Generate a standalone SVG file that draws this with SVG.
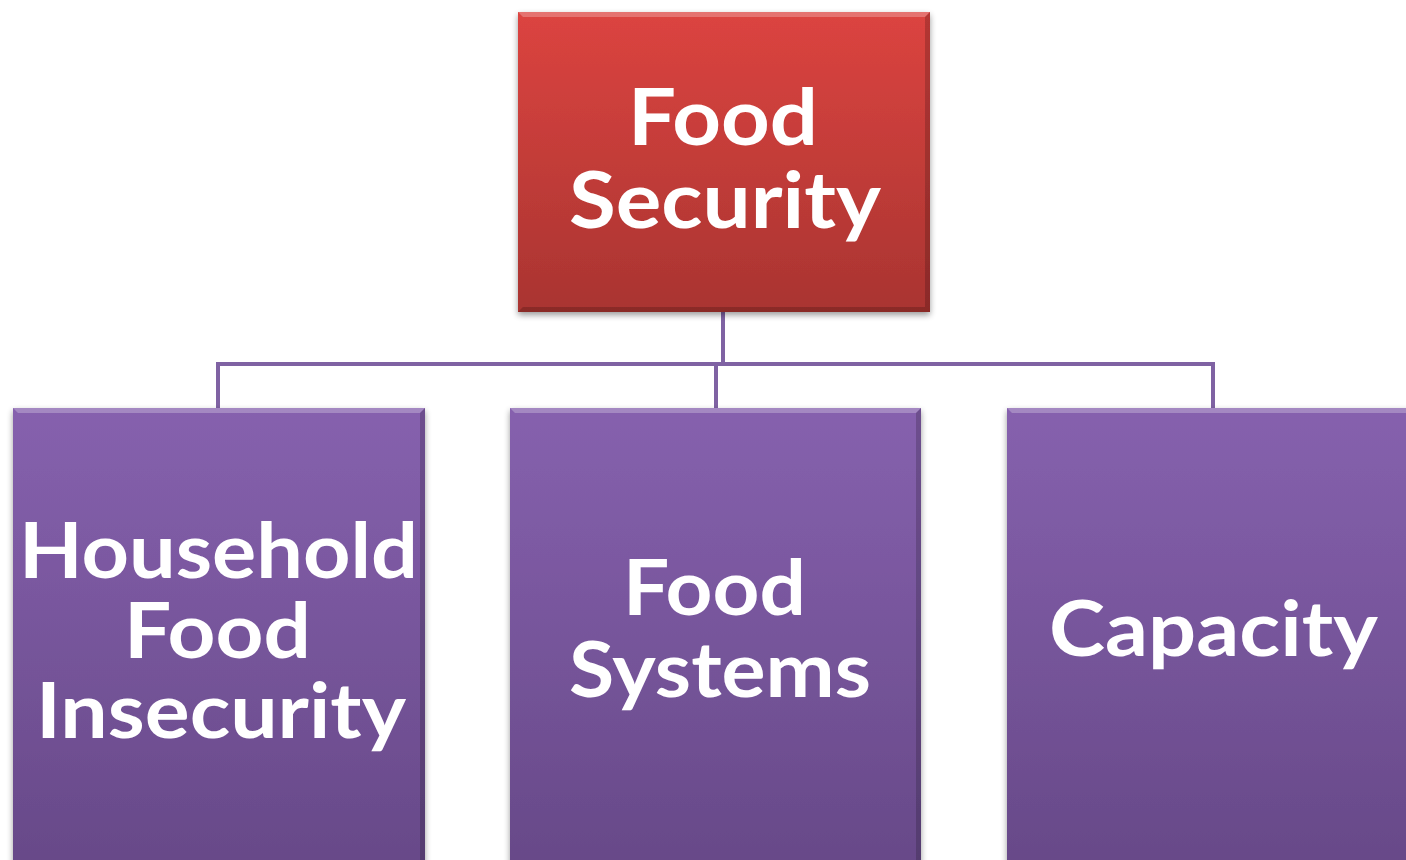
<svg xmlns="http://www.w3.org/2000/svg" width="1406" height="860" viewBox="0 0 1406 860">
  <style>
    .label { font-family: Lato, "Open Sans", "Liberation Sans", sans-serif; font-weight: 700; fill: #ffffff; }
    .conn { fill: none; stroke: #7f62a3; stroke-width: 4; stroke-linejoin: miter; }
    .hi { fill: #ffffff; opacity: 0.25; }
    .lo { fill: #000000; opacity: 0.18; }
  </style>
  <defs>
    <linearGradient id="redFill" x1="0" y1="0" x2="0" y2="1">
      <stop offset="0" stop-color="#dc4440"/>
      <stop offset="1" stop-color="#a93431"/>
    </linearGradient>
    <linearGradient id="purpleFill" x1="0" y1="0" x2="0" y2="1">
      <stop offset="0" stop-color="#8661ae"/>
      <stop offset="1" stop-color="#674988"/>
    </linearGradient>
    <filter id="shadow" x="-10%" y="-10%" width="120%" height="125%">
      <feGaussianBlur in="SourceAlpha" stdDeviation="3"/>
      <feOffset dx="0" dy="3" result="b"/>
      <feComponentTransfer><feFuncA type="linear" slope="0.4"/></feComponentTransfer>
      <feMerge><feMergeNode/><feMergeNode in="SourceGraphic"/></feMerge>
    </filter>
  </defs>

  <rect width="1406" height="860" fill="#ffffff"/>

  <!-- connectors -->
  <g id="connectors">
    <path class="conn" d="M723 312 V364"/>
    <path class="conn" d="M218 408 V364 H1213 V408"/>
    <path class="conn" d="M716 364 V408"/>
  </g>

  <!-- root node -->
  <g id="node-food-security" filter="url(#shadow)">
    <rect x="518" y="12" width="412" height="300" fill="url(#redFill)"/>
    <polygon class="hi" points="518,12 930,12 925,17 523,17"/>
    <polygon class="lo" points="930,12 930,312 925,307 925,17"/>
    <polygon class="lo" points="518,312 930,312 925,307 523,307"/>
    <text class="label" font-size="78">
      <tspan x="628" y="145" textLength="190" lengthAdjust="spacingAndGlyphs">Food</tspan>
      <tspan x="569" y="228" textLength="312" lengthAdjust="spacingAndGlyphs">Security</tspan>
    </text>
  </g>

  <g id="node-household" filter="url(#shadow)">
    <rect x="13" y="408" width="412" height="460" fill="url(#purpleFill)"/>
    <polygon class="hi" points="13,408 425,408 420,413 18,413"/>
    <polygon class="lo" points="425,408 425,868 420,863 420,413"/>
    <text class="label" font-size="76">
      <tspan x="19" y="578" textLength="399" lengthAdjust="spacingAndGlyphs">Household</tspan>
      <tspan x="124" y="658" textLength="187" lengthAdjust="spacingAndGlyphs">Food</tspan>
      <tspan x="36" y="738" textLength="370" lengthAdjust="spacingAndGlyphs">Insecurity</tspan>
    </text>
  </g>

  <g id="node-food-systems" filter="url(#shadow)">
    <rect x="510" y="408" width="411" height="460" fill="url(#purpleFill)"/>
    <polygon class="hi" points="510,408 921,408 916,413 515,413"/>
    <polygon class="lo" points="921,408 921,868 916,863 916,413"/>
    <text class="label" font-size="76">
      <tspan x="623" y="615" textLength="183" lengthAdjust="spacingAndGlyphs">Food</tspan>
      <tspan x="569" y="697" textLength="302" lengthAdjust="spacingAndGlyphs">Systems</tspan>
    </text>
  </g>

  <g id="node-capacity" filter="url(#shadow)">
    <rect x="1007" y="408" width="412" height="460" fill="url(#purpleFill)"/>
    <polygon class="hi" points="1007,408 1419,408 1414,413 1012,413"/>
    <text class="label" font-size="76" x="1049" y="656" textLength="329" lengthAdjust="spacingAndGlyphs">Capacity</text>
  </g>
</svg>
